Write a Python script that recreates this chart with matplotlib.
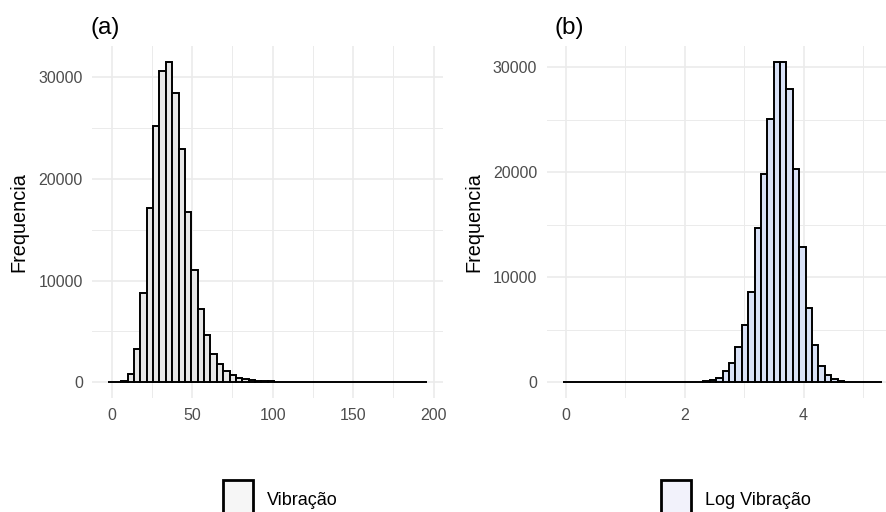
import numpy as np
import matplotlib
matplotlib.use("Agg")
import matplotlib.pyplot as plt
from matplotlib.patches import Patch

plt.rcParams['font.family'] = ['Liberation Sans', 'DejaVu Sans']

# histogram counts (50 bins each)
vib_start = -1.98
vib_width = 3.96
vib_counts = [20, 50, 130, 820, 3280, 8820, 17150, 25180, 30620, 31510,
              28430, 22950, 16720, 11050, 7210, 4660, 2750, 1800, 1080, 690,
              460, 300, 230, 130, 100, 80, 65, 50, 40, 35,
              30, 25, 20, 18, 15, 12, 10, 9, 8, 7,
              6, 5, 5, 4, 3, 3, 2, 2, 1, 1]

log_start = -0.054
log_width = 0.1076
log_counts = [10, 2, 3, 5, 4, 6, 8, 5, 10, 12,
              8, 10, 15, 12, 15, 20, 25, 30, 40, 50,
              60, 50, 90, 180, 440, 1080, 1810, 3370, 5460, 8570,
              14670, 19810, 25110, 30480, 30480, 27970, 20350, 12890, 7110, 3560,
              1560, 670, 300, 150, 60, 30, 15, 8, 4, 2]

W, H = 887, 512
fig = plt.figure(figsize=(W / 100, H / 100), dpi=100)

grid_col = '#ebebeb'
tick_col = '#4d4d4d'


def style(ax, xmajor, xminor, ymajor, yminor):
    ax.set_xticks(xmajor)
    ax.set_xticks(xminor, minor=True)
    ax.set_yticks(ymajor)
    ax.set_yticks(yminor, minor=True)
    ax.grid(True, which='major', color=grid_col, lw=1.2)
    ax.grid(True, which='minor', color=grid_col, lw=0.7)
    ax.set_axisbelow(True)
    for s in ax.spines.values():
        s.set_visible(False)
    ax.tick_params(which='both', length=0, colors=tick_col, labelsize=11.5, pad=7)
    ax.set_ylabel('Frequencia', fontsize=14.3, color='black', labelpad=7)


# panel (a)
ax1 = fig.add_axes([92.5 / W, 1 - 398.3 / H, (443 - 92.5) / W, (398.3 - 45.8) / H])
edges = vib_start + vib_width * np.arange(len(vib_counts))
ax1.bar(edges, vib_counts, width=vib_width, align='edge',
        color='#e6e6e6', edgecolor='black', lw=1.4)
ax1.set_xlim(-11.9, 205.9)
ax1.set_ylim(-1575, 33085)
style(ax1, [0, 50, 100, 150, 200], [25, 75, 125, 175],
      [0, 10000, 20000, 30000], [5000, 15000, 25000])
fig.text(91 / W, 1 - 17 / H, '(a)', fontsize=17.5, va='top', ha='left')

# panel (b)
ax2 = fig.add_axes([546.8 / W, 1 - 398.3 / H, (W - 546.8) / W, (398.3 - 46.3) / H])
edges = log_start + log_width * np.arange(len(log_counts))
ax2.bar(edges, log_counts, width=log_width, align='edge',
        color='#d8e1f6', edgecolor='black', lw=1.4)
ax2.set_xlim(-0.323, -0.323 + (W - 546.8) / 59.4)
ax2.set_ylim(-1524, 32004)
style(ax2, [0, 2, 4], [1, 3, 5],
      [0, 10000, 20000, 30000], [5000, 15000, 25000])
fig.text(554 / W, 1 - 17 / H, '(b)', fontsize=17.5, va='top', ha='left')

# legends under each panel
for x0, label, fc in [(223, 'Vibração', '#f6f6f6'), (661, 'Log Vibração', '#f2f2fb')]:
    h = Patch(facecolor=fc, edgecolor='black', lw=2)
    fig.legend([h], [label], loc='upper left', bbox_to_anchor=(x0 / W, 1 - 480 / H),
               frameon=False, fontsize=13, handlelength=1.66, handleheight=2.9,
               handletextpad=0.75, borderpad=0, borderaxespad=0)

fig.savefig('out.png', dpi=100, facecolor='white')
